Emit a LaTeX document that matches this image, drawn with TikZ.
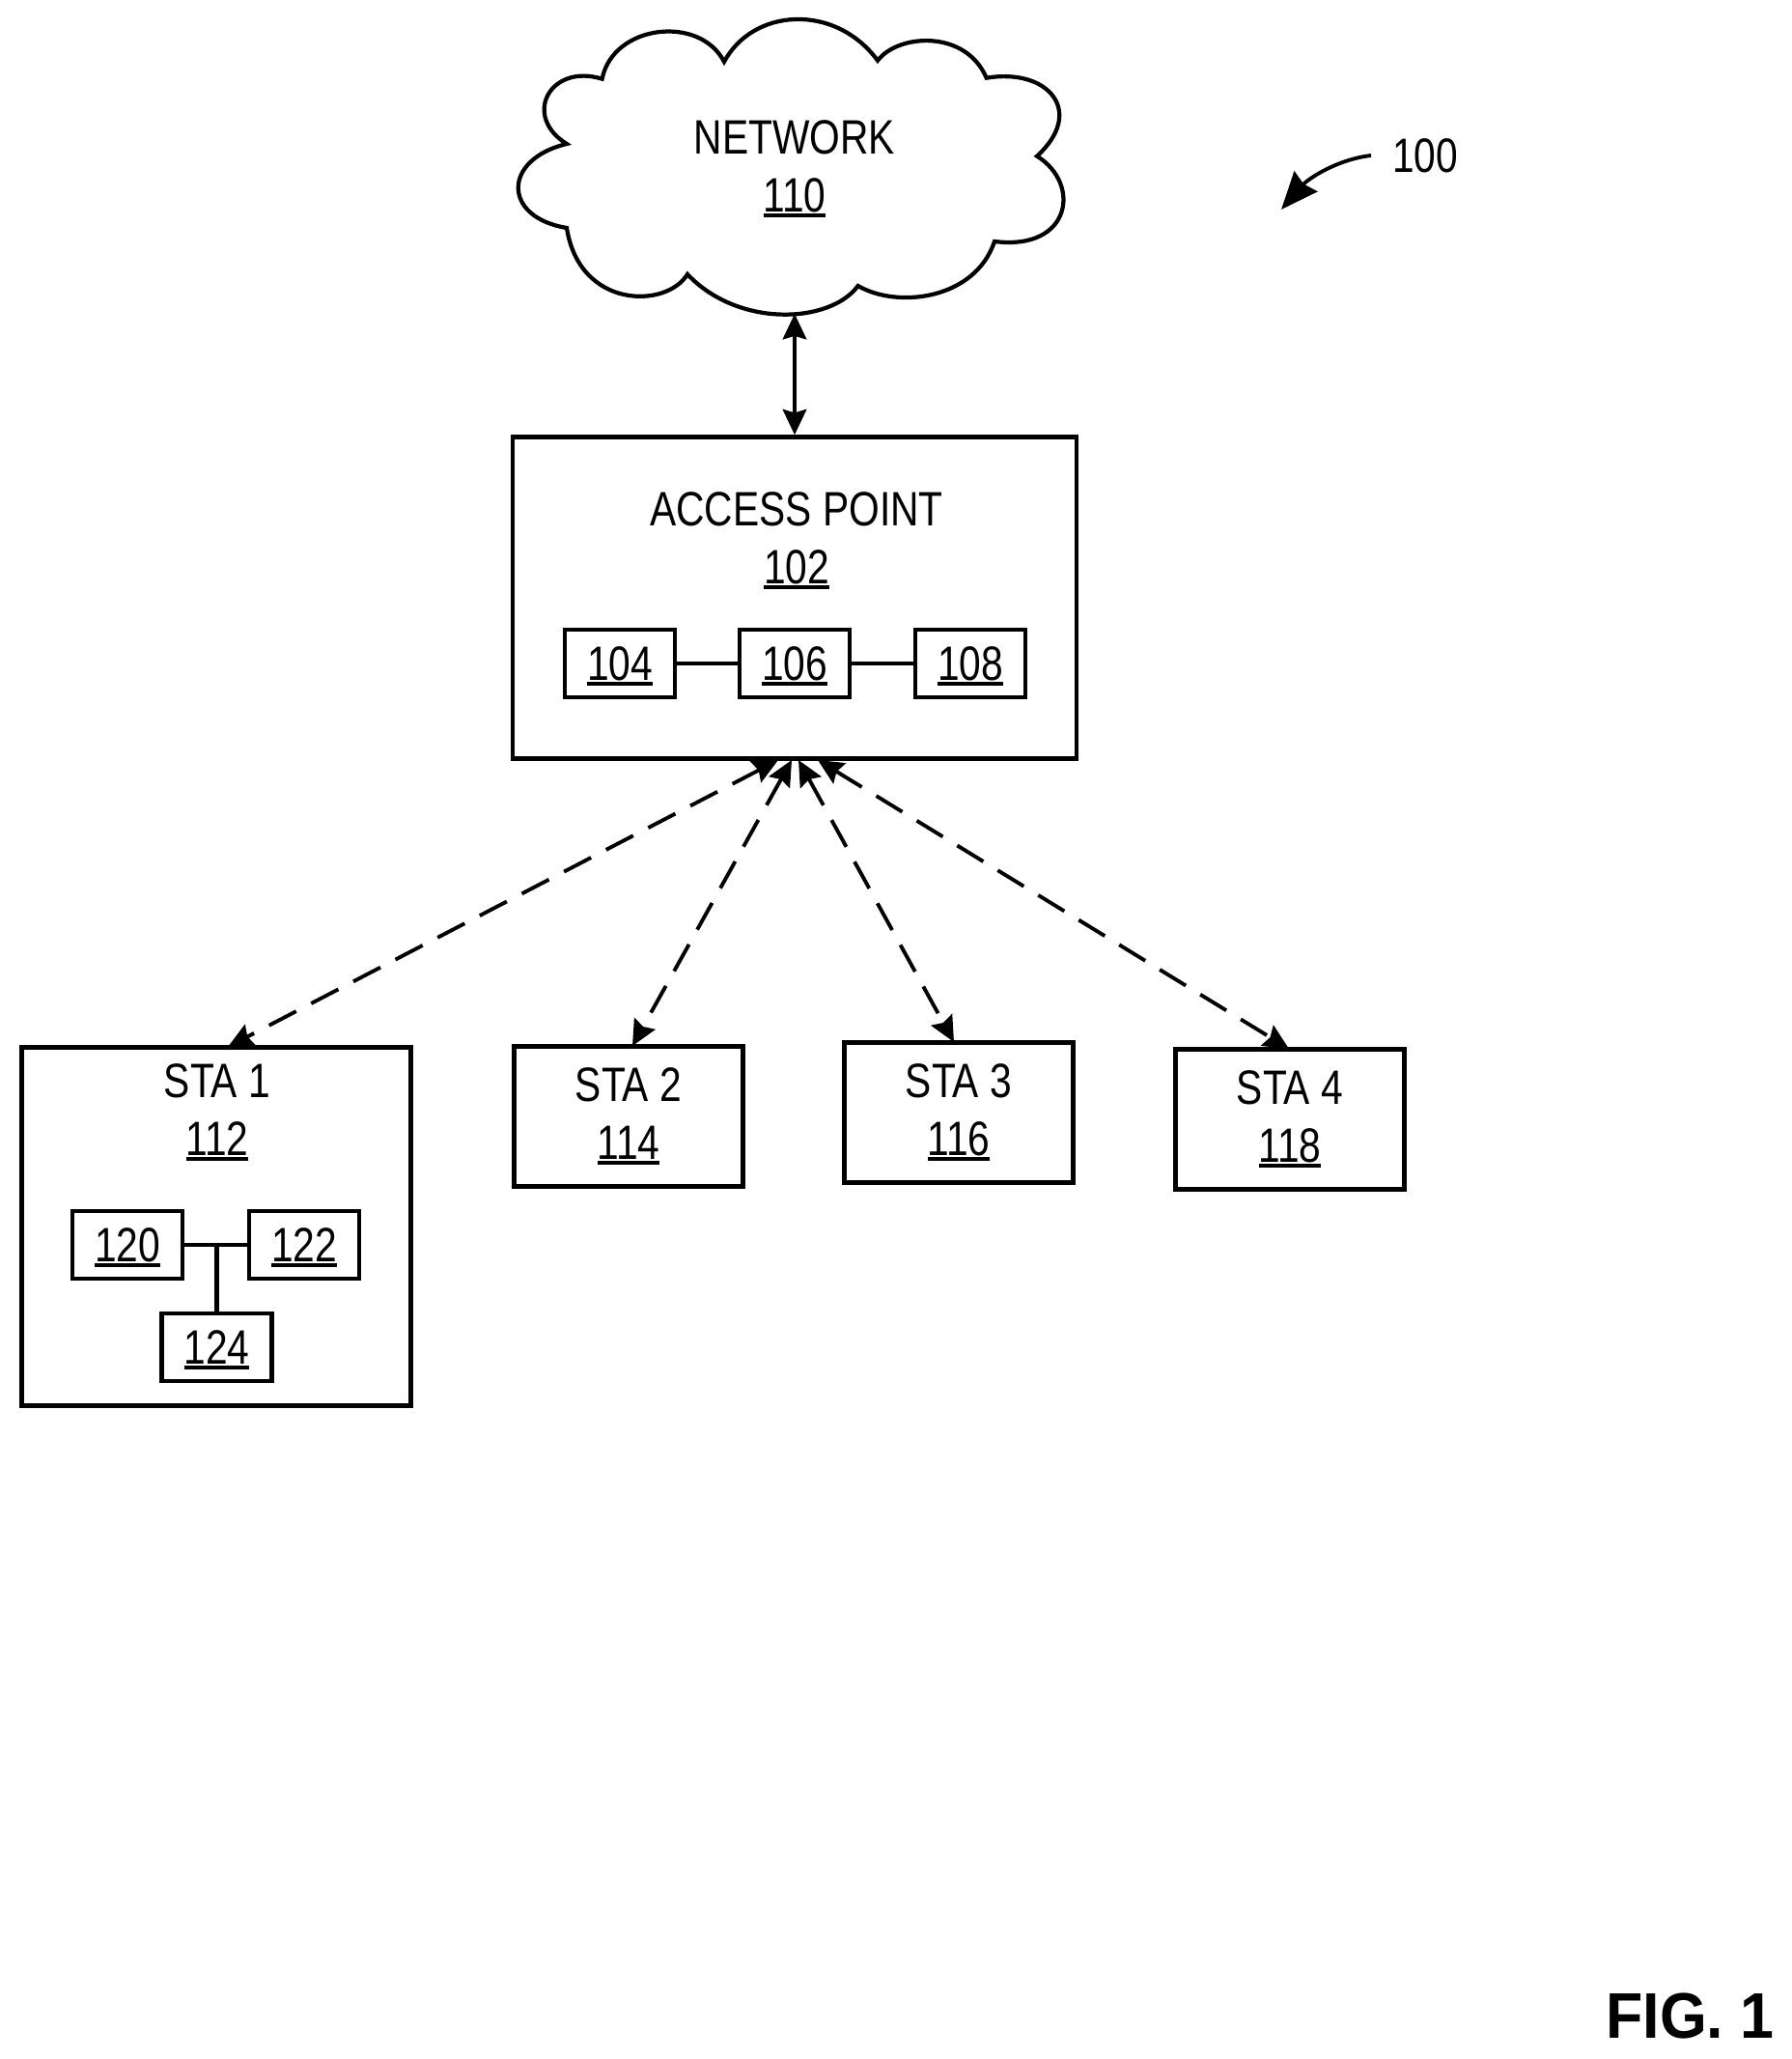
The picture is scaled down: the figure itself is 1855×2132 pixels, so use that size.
\documentclass[tikz,border=0pt]{standalone}
\usepackage{amsmath}
\usepackage{fontspec}
\usetikzlibrary{arrows.meta}
\setmainfont[FakeStretch=0.815]{Liberation Sans}
\newfontfamily\figfont[FakeStretch=0.94]{Liberation Sans}
\newcommand{\refnum}[1]{\setbox0\hbox{#1}\rlap{\rule[-3.2pt]{\wd0}{2.4pt}}\box0}
\begin{document}
\begin{tikzpicture}[x=0.02cm,y=-0.02cm,
  every node/.append style={inner sep=0pt,align=center,font=\fontsize{28.45}{34.1}\selectfont},
  boxline/.style={draw=black,line width=2.6pt},
  bigbox/.style={boxline,minimum width=#1},
  partbox/.style={boxline,minimum width=2.28cm,minimum height=1.4cm,text height=23pt},
  stabox/.style={boxline,minimum width=4.74cm,minimum height=2.91cm},
  link/.style={black,line width=2.2pt,{Stealth[length=15pt,width=14pt,inset=2pt]}-{Stealth[length=15pt,width=14pt,inset=2pt]}},
  radio/.style={link,dash pattern=on 18pt off 10pt}]
\useasboundingbox (0,0) rectangle (1855,2132);
% cloud
\draw [black,line width=2.4pt] (623.6,81.7)
  .. controls (635,25) and (725,15) .. (750,64)
  .. controls (780,8) and (865,3) .. (909,62.7)
  .. controls (930,35) and (1000,30) .. (1021.7,80.7)
  .. controls (1085,70) and (1125,115) .. (1074,161.7)
  .. controls (1120,190) and (1110,260) .. (1030,250)
  .. controls (1010,310) and (930,320) .. (888.6,296)
  .. controls (860,335) and (765,340) .. (712,284)
  .. controls (690,320) and (600,320) .. (587,236)
  .. controls (520,225) and (520,165) .. (587,149)
  .. controls (540,120) and (570,65) .. cycle;
\node (network) at (823,175) {NETWORK\\\refnum{110}};
\coordinate (netfoot) at (823,325);
% reference numeral
\node (hundred) at (1476,161) {100};
\coordinate (leadfrom) at (1420,161);
\coordinate (leadtip) at (1327,217);
\draw [black,line width=2.2pt,-{Stealth[length=22pt,width=18pt,inset=2pt]}] (leadfrom) .. controls (1385,165) and (1355,185) .. (leadtip);
% access point
\node [bigbox=11.68cm,minimum height=6.66cm] (ap) at (823,619) {};
\node (aptext) at (825,560) {ACCESS POINT\\\refnum{102}};
\node [partbox] (radioa) at (642,687) {\refnum{104}};
\node [partbox] (radiob) at (823,687) {\refnum{106}};
\node [partbox] (radioc) at (1005,687) {\refnum{108}};
\draw [boxline] (radioa) -- (radiob);
\draw [boxline] (radiob) -- (radioc);
\draw [link] (netfoot) -- (ap.north);
% stations
\node [bigbox=8.07cm,minimum height=7.43cm] (staa) at (224,1270) {};
\node (staatext) at (225,1152) {STA 1\\\refnum{112}};
\node [partbox] (parta) at (132,1289) {\refnum{120}};
\node [partbox] (partb) at (315,1289) {\refnum{122}};
\node [partbox] (partc) at (224.5,1395) {\refnum{124}};
\draw [boxline] (parta) -- (partb);
\draw [boxline] (partc.north) -- (partc.north |- parta.east);
\node [stabox] (stab) at (651,1156) {STA 2\\\refnum{114}};
\node [stabox] (stac) at (993,1152) {STA 3\\\refnum{116}};
\node [stabox] (stad) at (1336,1159) {STA 4\\\refnum{118}};
% wireless links
\coordinate (apa) at (806,787);
\coordinate (apb) at (820,787);
\coordinate (apc) at (827,787);
\coordinate (apd) at (847,787);
\coordinate (staatop) at (236,1084);
\coordinate (stabtop) at (655,1083);
\coordinate (stactop) at (988,1079);
\coordinate (stadtop) at (1335,1086);
\draw [radio] (apa) -- (staatop);
\draw [radio] (apb) -- (stabtop);
\draw [radio] (apc) -- (stactop);
\draw [radio] (apd) -- (stadtop);
% figure label
\node [font=\fontsize{38}{44}\selectfont\figfont\bfseries,anchor=base east] (figlabel) at (1838,2110) {FIG. 1};
\end{tikzpicture}
\end{document}
